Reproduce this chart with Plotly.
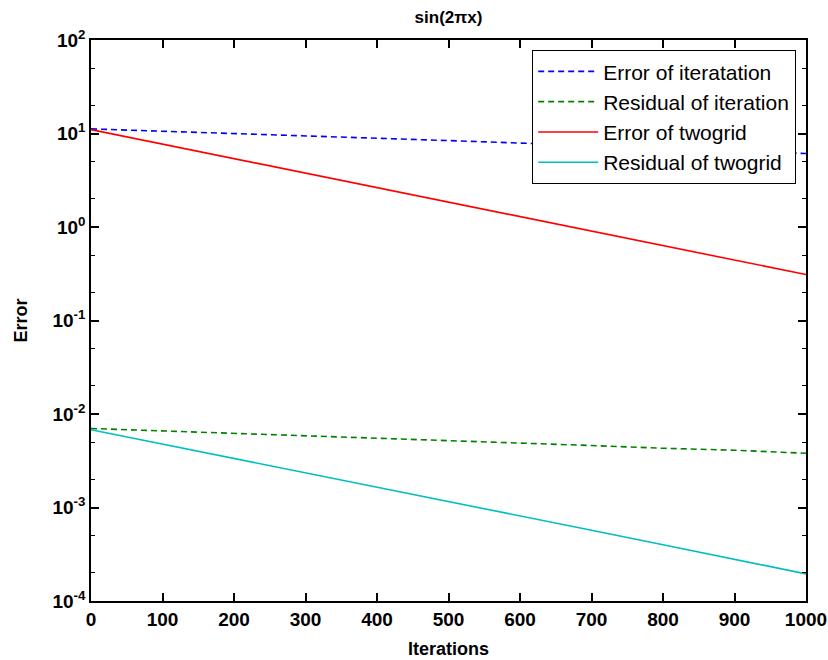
import plotly.graph_objects as go

# Iteration counts at which the errors/residuals are sampled
iterations = [0, 100, 200, 300, 400, 500, 600, 700, 800, 900, 1000]

# Plain iteration (Jacobi-like smoother)
err_iter = [11.2, 10.6, 10.0, 9.4, 8.9, 8.4, 7.9, 7.5, 7.0, 6.6, 6.1]
res_iter = [0.0070, 0.0066, 0.0062, 0.0059, 0.0055, 0.0052, 0.0049, 0.0046, 0.0043, 0.0041, 0.0038]

# Two-grid method
err_twogrid = [11.0, 7.7, 5.4, 3.8, 2.65, 1.86, 1.30, 0.91, 0.64, 0.45, 0.31]
res_twogrid = [0.0068, 0.00476, 0.00334, 0.00234, 0.00164, 0.00115, 0.00081, 0.00057, 0.00040, 0.00028, 0.000195]

x_ticks = [0, 100, 200, 300, 400, 500, 600, 700, 800, 900, 1000]
y_tickvals = [1e-4, 1e-3, 1e-2, 1e-1, 1e0, 1e1, 1e2]
y_ticktext = ["10<sup>-4</sup>", "10<sup>-3</sup>", "10<sup>-2</sup>", "10<sup>-1</sup>",
              "10<sup>0</sup>", "10<sup>1</sup>", "10<sup>2</sup>"]

series = [
    ("Error of iteratation", err_iter, "#0000FF", "6px,4px"),
    ("Residual of iteration", res_iter, "#008000", "6px,4px"),
    ("Error of twogrid", err_twogrid, "#FF0000", "solid"),
    ("Residual of twogrid", res_twogrid, "#00BFBF", "solid"),
]

fig = go.Figure()
for name, vals, color, dash in series:
    fig.add_trace(go.Scatter(
        x=iterations, y=vals, mode="lines", name=name,
        line=dict(color=color, width=1.6, dash=dash),
    ))

tick_font = dict(family="Liberation Sans", size=19, color="black", weight="bold")
label_font = dict(family="Liberation Sans", size=18, color="black")

fig.update_layout(
    width=828, height=660,
    margin=dict(l=91, r=22, t=40, b=59, autoexpand=False),
    paper_bgcolor="white", plot_bgcolor="white",
    title=dict(text="<b>sin(2πx)</b>", x=(91 + 715 / 2) / 828, xanchor="center",
               y=1 - 17 / 660, yanchor="middle",
               font=dict(family="Liberation Sans", size=17, color="black")),
    xaxis=dict(
        range=[0, 1000], tickvals=x_ticks, ticks="inside", ticklen=8, tickwidth=1.5,
        tickcolor="black", showline=True, linecolor="black", linewidth=1.5,
        mirror="allticks", showgrid=False, zeroline=False, tickfont=tick_font,
        title=dict(text="<b>Iterations</b>", font=label_font, standoff=14),
    ),
    yaxis=dict(
        type="log", range=[-4, 2], tickvals=y_tickvals, ticktext=y_ticktext,
        ticks="inside", ticklen=8, tickwidth=1.5, tickcolor="black",
        showline=True, linecolor="black", linewidth=1.5, mirror="allticks",
        showgrid=False, zeroline=False, tickfont=tick_font,
        minor=dict(ticks="inside", ticklen=4, tickwidth=1.2, tickcolor="black", showgrid=False),
        title=dict(text="<b>Error</b>", font=label_font, standoff=20),
    ),
    legend=dict(
        x=(796 - 91) / 715, y=1 - (50 - 40) / 561, xanchor="right", yanchor="top",
        bgcolor="white", bordercolor="black", borderwidth=1.2,
        font=dict(family="Liberation Sans", size=21, color="black"),
        itemwidth=60, tracegroupgap=0,
    ),
    showlegend=True,
)

fig.write_html("out.html")
